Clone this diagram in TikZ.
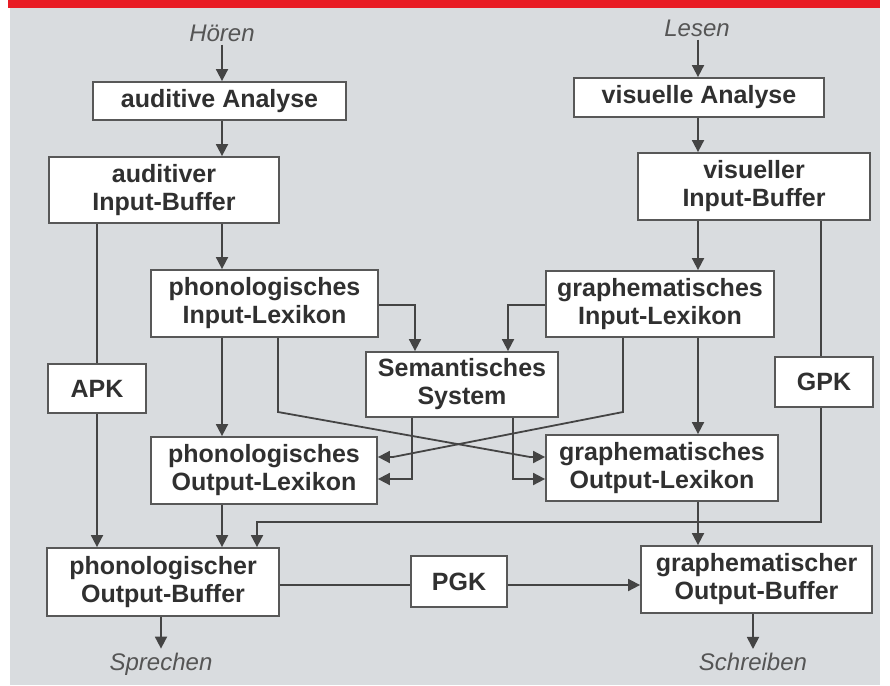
\documentclass[tikz,border=0pt]{standalone}
\usepackage{fontspec}
\setmainfont{Liberation Sans}
\usetikzlibrary{arrows.meta}
\definecolor{bg}{RGB}{217,220,223}
\definecolor{redbar}{RGB}{232,28,36}
\definecolor{linec}{RGB}{68,68,68}
\definecolor{boxc}{RGB}{88,88,88}
\definecolor{txt}{RGB}{48,48,48}
\definecolor{lab}{RGB}{85,85,85}
\begin{document}
\begin{tikzpicture}[x=1pt,y=-1pt,
  box/.style={draw=boxc, fill=white, line width=1.8pt, inner sep=0pt, align=center, text=txt, font=\fontsize{25}{28}\selectfont\bfseries},
  lbl/.style={inner sep=0pt, text=lab, font=\fontsize{24}{28}\selectfont\itshape},
  conn/.style={draw=linec, line width=1.8pt},
  arr/.style={conn, -{Triangle[length=12pt,width=12pt]}}
]
\useasboundingbox (0,0) rectangle (890,685);
\fill[white] (0,0) rectangle (890,685);
\fill[bg] (10,7) rectangle (880,685);
\fill[redbar] (8,0) rectangle (880,8);

% guide coordinates
\coordinate (xA) at (222,0);
\coordinate (xAPK) at (97,0);
\coordinate (xB) at (278,0);
\coordinate (xC) at (415,0);
\coordinate (xD) at (412,0);
\coordinate (xE) at (513,0);
\coordinate (xF) at (508,0);
\coordinate (xG) at (623,0);
\coordinate (xV) at (698,0);
\coordinate (xGPK) at (821,0);
\coordinate (xH) at (257,0);
\coordinate (xS) at (161,0);
\coordinate (xW) at (753,0);
\coordinate (y305) at (0,305);
\coordinate (y412) at (0,412);
\coordinate (y457) at (0,457);
\coordinate (y479) at (0,479);
\coordinate (y522) at (0,522);
\coordinate (y585) at (0,585);
\coordinate (d1) at (530,457);
\coordinate (d2) at (393,457);

% labels
\node[lbl] (hoeren) at (222,33) {Hören};
\node[lbl] (lesen) at (697,28) {Lesen};
\node[lbl] (sprechen) at (161,664) {Sprechen};
\node[lbl] (schreiben) at (753,662) {Schreiben};

% boxes
\node[box, minimum width=253pt, minimum height=38pt] (aA) at (219.5,101) {auditive Analyse};
\node[box, minimum width=230pt, minimum height=66pt] (aIB) at (164,190) {auditiver\\Input-Buffer};
\node[box, minimum width=250pt, minimum height=39pt] (vA) at (699,97.5) {visuelle Analyse};
\node[box, minimum width=232pt, minimum height=67pt] (vIB) at (754,186.5) {visueller\\Input-Buffer};
\node[box, minimum width=227pt, minimum height=67pt] (pIL) at (264.5,303.5) {phonologisches\\Input-Lexikon};
\node[box, minimum width=228pt, minimum height=66pt] (gIL) at (660,304) {graphematisches\\Input-Lexikon};
\node[box, minimum width=192pt, minimum height=65pt] (Sem) at (462,384.5) {Semantisches\\System};
\node[box, minimum width=98pt, minimum height=49pt] (APK) at (97,388.5) {APK};
\node[box, minimum width=98pt, minimum height=50pt] (GPK) at (824,382) {GPK};
\node[box, minimum width=226pt, minimum height=67pt] (pOL) at (264,470.5) {phonologisches\\Output-Lexikon};
\node[box, minimum width=232pt, minimum height=66pt] (gOL) at (662,468) {graphematisches\\Output-Lexikon};
\node[box, minimum width=232pt, minimum height=68pt] (pOB) at (163,582) {phonologischer\\Output-Buffer};
\node[box, minimum width=96pt, minimum height=51pt] (PGK) at (459,581.5) {PGK};
\node[box, minimum width=231pt, minimum height=67pt] (gOB) at (756.5,579.5) {graphematischer\\Output-Buffer};

% left column
\draw[arr, shorten <=3pt] (hoeren.south -| xA) -- (aA.north -| xA);
\draw[arr] (aA.south -| xA) -- (aIB.north -| xA);
\draw[arr] (aIB.south -| xA) -- (pIL.north -| xA);
\draw[arr] (pIL.south -| xA) -- (pOL.north -| xA);
\draw[arr] (pOL.south -| xA) -- (pOB.north -| xA);
\draw[conn] (aIB.south -| xAPK) -- (APK.north);
\draw[arr] (APK.south) -- (pOB.north -| xAPK);
\draw[arr, shorten >=4pt] (pOB.south -| xS) -- (sprechen.north);

% right column
\draw[arr, shorten <=3pt] (lesen.south -| xV) -- (vA.north -| xV);
\draw[arr] (vA.south -| xV) -- (vIB.north -| xV);
\draw[arr] (vIB.south -| xV) -- (gIL.north -| xV);
\draw[arr] (gIL.south -| xV) -- (gOL.north -| xV);
\draw[arr] (gOL.south -| xV) -- (gOB.north -| xV);
\draw[conn] (vIB.south -| xGPK) -- (GPK.north -| xGPK);
\draw[arr] (GPK.south -| xGPK) -- (xGPK |- y522) -- (xH |- y522) -- (pOB.north -| xH);
\draw[arr, shorten >=4pt] (gOB.south -| xW) -- (schreiben.north);

% semantic system links
\draw[arr] (pIL.east |- y305) -- (xC |- y305) -- (Sem.north -| xC);
\draw[arr] (gIL.west |- y305) -- (xF |- y305) -- (Sem.north -| xF);
\draw[arr] (Sem.south -| xD) -- (xD |- y479) -- (pOL.east |- y479);
\draw[arr] (Sem.south -| xE) -- (xE |- y479) -- (gOL.west |- y479);

% crossing lexical routes
\draw[arr] (pIL.south -| xB) -- (xB |- y412) -- (d1) -- (gOL.west |- y457);
\draw[arr] (gIL.south -| xG) -- (xG |- y412) -- (d2) -- (pOL.east |- y457);

% PGK route
\draw[conn] (pOB.east |- y585) -- (PGK.west |- y585);
\draw[arr] (PGK.east |- y585) -- (gOB.west |- y585);
\end{tikzpicture}
\end{document}
